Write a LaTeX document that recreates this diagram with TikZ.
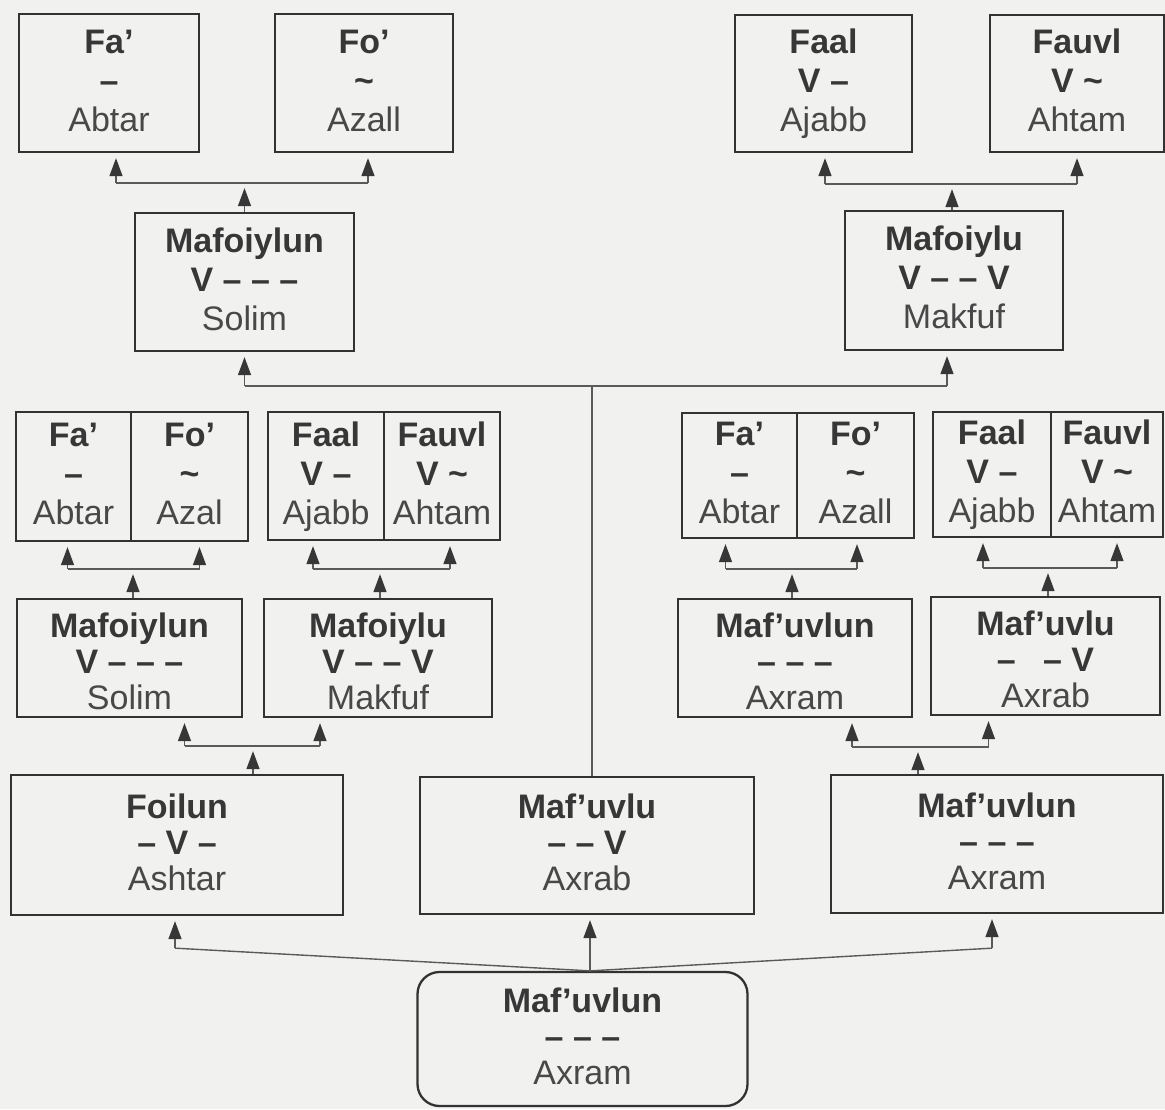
\documentclass[tikz,border=0pt]{standalone}
\usepackage{fontspec}
\setmainfont{Liberation Sans}
\usetikzlibrary{arrows.meta,calc}
\definecolor{bgc}{RGB}{241,241,239}
\definecolor{linec}{RGB}{50,50,50}
\definecolor{connc}{RGB}{90,90,90}
\definecolor{tipc}{RGB}{55,55,55}
\definecolor{txtd}{RGB}{55,55,55}
\definecolor{txtl}{RGB}{72,72,72}
\newcommand{\rgl}[1]{\textcolor{txtl}{#1}}
\newcommand{\tld}{\textasciitilde}
\newcommand{\tp}{\rule{0pt}{26pt}}
\newcommand{\tpb}{\rule{0pt}{38pt}}
\newcommand{\bt}{\rule[-8pt]{0pt}{8pt}}
% #1 parent, #2 left child, #3 right child, #4 left x-shift, #5 right x-shift, #6 bar drop, #7 parent x-shift
\newcommand{\forkup}[7]{%
  \coordinate (#1-l) at ([xshift=#4]#2.south);
  \coordinate (#1-r) at ([xshift=#5]#3.south);
  \coordinate (#1-bar) at ([yshift=-#6]#2.south);
  \coordinate (#1-p) at ([xshift=#7]#1.north);
  \draw[conn] (#1-l |- #1-bar) -- (#1-r |- #1-bar);
  \draw[arr] (#1-l |- #1-bar) -- (#1-l);
  \draw[arr] (#1-r |- #1-bar) -- (#1-r);
  \draw[arr] (#1-p) -- (#1-p |- #1-bar);
}
\begin{document}
\begin{tikzpicture}[x=1pt,y=-1pt,
  box/.style={draw=linec,line width=2.3pt,inner sep=0pt,align=center,text=txtd,
    font=\fontsize{34}{39}\selectfont},
  boxt/.style={box,font=\fontsize{34}{36}\selectfont},
  conn/.style={draw=connc,line width=1.4pt},
  arr/.style={conn,-{Triangle[width=13pt,length=18pt,color=tipc]},shorten >=5pt}]
\fill[bgc] (0,0) rectangle (1165,1109);
\useasboundingbox (0,0) rectangle (1165,1109);

% row 1
\node[box,minimum width=180pt,minimum height=138pt] (r1a) at (109,83) {\tp\textbf{Fa’}\\\textbf{–}\\\rgl{Abtar}\bt};
\node[box,minimum width=178pt,minimum height=138pt] (r1b) at (364,83) {\tp\textbf{Fo’}\\\textbf{\tld}\\\rgl{Azall}\bt};
\node[box,minimum width=177pt,minimum height=137pt] (r1c) at (823.5,83.5) {\tp\textbf{Faal}\\\textbf{V –}\\\rgl{Ajabb}\bt};
\node[box,minimum width=174pt,minimum height=137pt] (r1d) at (1077,83.5) {\tp\textbf{Fauvl}\\\textbf{V \tld}\\\rgl{Ahtam}\bt};

% row 2
\node[box,minimum width=219pt,minimum height=138pt] (m1) at (244.5,282) {\tp\textbf{Mafoiylun}\\\textbf{V – – –}\\\rgl{Solim}\bt};
\node[box,minimum width=218pt,minimum height=139pt] (m2) at (954,280.5) {\tp\textbf{Mafoiylu}\\\textbf{V – – V}\\\rgl{Makfuf}\bt};

% row 3 (split boxes)
\node[box,minimum width=115pt,minimum height=129pt] (a3) at (73.5,476.5) {\tp\textbf{Fa’}\\\textbf{–}\\\rgl{Abtar}\bt};
\node[box,minimum width=117pt,minimum height=129pt] (b3) at (189.5,476.5) {\tp\textbf{Fo’}\\\textbf{\tld}\\\rgl{Azal}\bt};
\node[box,minimum width=116pt,minimum height=128pt] (c3) at (326,476) {\tp\textbf{Faal}\\\textbf{V –}\\\rgl{Ajabb}\bt};
\node[box,minimum width=116pt,minimum height=128pt] (d3) at (442,476) {\tp\textbf{Fauvl}\\\textbf{V \tld}\\\rgl{Ahtam}\bt};
\node[box,minimum width=115pt,minimum height=125pt] (e3) at (739.5,475.5) {\tp\textbf{Fa’}\\\textbf{–}\\\rgl{Abtar}\bt};
\node[box,minimum width=117pt,minimum height=125pt] (f3) at (855.5,475.5) {\tp\textbf{Fo’}\\\textbf{\tld}\\\rgl{Azall}\bt};
\node[box,minimum width=118pt,minimum height=125pt] (g3) at (992,474.5) {\tp\textbf{Faal}\\\textbf{V –}\\\rgl{Ajabb}\bt};
\node[box,minimum width=112pt,minimum height=125pt] (h3) at (1107,474.5) {\tp\textbf{Fauvl}\\\textbf{V \tld}\\\rgl{Ahtam}\bt};

% row 4
\node[boxt,minimum width=225pt,minimum height=118pt] (m3) at (129.5,658) {\tpb\textbf{Mafoiylun}\\\textbf{V – – –}\\\rgl{Solim}\bt};
\node[boxt,minimum width=228pt,minimum height=118pt] (m4) at (378,658) {\tpb\textbf{Mafoiylu}\\\textbf{V – – V}\\\rgl{Makfuf}\bt};
\node[boxt,minimum width=234pt,minimum height=116pt] (m5) at (795,658) {\tpb\textbf{Maf’uvlun}\\\textbf{– – –}\\\rgl{Axram}\bt};
\node[boxt,minimum width=229pt,minimum height=118pt] (m6) at (1045.5,656) {\tpb\textbf{Maf’uvlu}\\\textbf{–\hspace{0.8em}– V}\\\rgl{Axrab}\bt};

% row 5
\node[boxt,minimum width=332pt,minimum height=140pt] (p1) at (177,845) {\tp\textbf{Foilun}\\\textbf{– V –}\\\rgl{Ashtar}\bt};
\node[boxt,minimum width=334pt,minimum height=137pt] (p2) at (587,845.5) {\tp\textbf{Maf’uvlu}\\\textbf{– – V}\\\rgl{Axrab}\bt};
\node[boxt,minimum width=332pt,minimum height=138pt] (p3) at (997,844) {\tp\textbf{Maf’uvlun}\\\textbf{– – –}\\\rgl{Axram}\bt};

% root
\node[boxt,rounded corners=22pt,minimum width=330pt,minimum height=134pt] (root) at (582.5,1039) {\tp\textbf{Maf’uvlun}\\\textbf{– – –}\\\rgl{Axram}\bt};

% forks
\forkup{m1}{r1a}{r1b}{7pt}{4pt}{30pt}{0pt}
\forkup{m2}{r1c}{r1d}{1.5pt}{0pt}{31pt}{-2pt}
\forkup{m3}{a3}{b3}{-6pt}{10pt}{27pt}{3.5pt}
\forkup{m4}{c3}{d3}{-13pt}{8pt}{28pt}{2pt}
\forkup{m5}{e3}{f3}{-14pt}{1.5pt}{30pt}{-3pt}
\forkup{m6}{g3}{h3}{-9pt}{10pt}{30pt}{2.5pt}
\forkup{p1}{m3}{m4}{55pt}{-58pt}{28pt}{76pt}
\forkup{p3}{m5}{m6}{57pt}{-57pt}{29pt}{-79pt}

% row 2 bar and middle trunk
\coordinate (r2bar) at ([yshift=-34pt]m1.south);
\coordinate (m2s) at ([xshift=-7pt]m2.south);
\coordinate (vx) at ([xshift=5pt]p2.north);
\draw[conn] (m1.south |- r2bar) -- (m2s |- r2bar);
\draw[arr] (m1.south |- r2bar) -- (m1.south);
\draw[arr] (m2s |- r2bar) -- (m2s);
\draw[conn] (vx |- r2bar) -- (vx);

% root connectors
\coordinate (rjx) at ([xshift=3pt]p2.south);
\coordinate (rj) at (rjx |- root.north);
\coordinate (rl) at ([xshift=-2pt,yshift=-32pt]p1.south);
\coordinate (rr) at ([xshift=-5pt,yshift=-34pt]p3.south);
\draw[conn] (rj) -- (rl);
\draw[arr] (rl) -- (rl |- p1.south);
\draw[conn] (rj) -- (rr);
\draw[arr] (rr) -- (rr |- p3.south);
\draw[arr] (rj) -- (rj |- p2.south);
\end{tikzpicture}
\end{document}
